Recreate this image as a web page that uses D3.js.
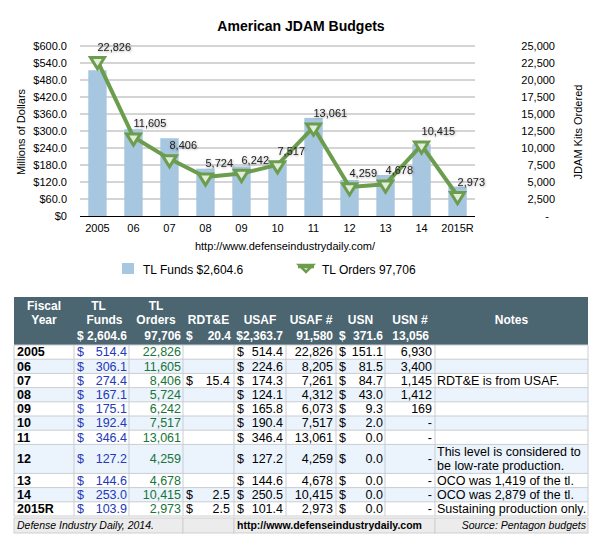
<!DOCTYPE html>
<html>
<head>
<meta charset="utf-8">
<script src="https://cdn.jsdelivr.net/npm/d3@7"></script>
<style>
  body { margin: 0; background: #fff; }
  text { font-family: "Liberation Sans", Arial, sans-serif; }
</style>
</head>
<body>
<div id="chart"></div>
<script>
// chart + table data
var years    = ["2005", "06", "07", "08", "09", "10", "11", "12", "13", "14", "2015R"];
var tlFunds  = [514.4, 306.1, 274.4, 167.1, 175.1, 192.4, 346.4, 127.2, 144.6, 253.0, 103.9];
var tlOrders = [22826, 11605, 8406, 5724, 6242, 7517, 13061, 4259, 4678, 10415, 2973];
var rdte     = [null, null, 15.4, null, null, null, null, null, null, 2.5, 2.5];
var usaf     = [514.4, 224.6, 174.3, 124.1, 165.8, 190.4, 346.4, 127.2, 144.6, 250.5, 101.4];
var usafNum  = [22826, 8205, 7261, 4312, 6073, 7517, 13061, 4259, 4678, 10415, 2973];
var usn      = [151.1, 81.5, 84.7, 43.0, 9.3, 2.0, 0.0, 0.0, 0.0, 0.0, 0.0];
var usnNum   = [6930, 3400, 1145, 1412, 169, 0, 0, 0, 0, 0, 0];
var notes    = ["", "", "RDT&E is from USAF.", "", "", "", "",
                "This level is considered to\nbe low-rate production.",
                "OCO was 1,419 of the tl.", "OCO was 2,879 of the tl.", "Sustaining production only."];
var leftTicks  = [0, 60, 120, 180, 240, 300, 360, 420, 480, 540, 600];
var rightTicks = [0, 2500, 5000, 7500, 10000, 12500, 15000, 17500, 20000, 22500, 25000];
var totals = {funds: "$ 2,604.6", orders: "97,706", rdte: "20.4", usaf: "$2,363.7",
              usafNum: "91,580", usn: "371.6", usnNum: "13,056"};
var legendFunds = "TL Funds $2,604.6", legendOrders = "TL Orders 97,706";

window.onload = () => {
  var W = 606, H = 552;
  var barColor = "#a7c6df", lineColor = "#6c9d4e";

  var svg = d3.select("#chart").append("svg")
    .attr("width", W).attr("height", H);

  var defs = svg.append("defs");
  var f = defs.append("filter").attr("id", "shadow")
    .attr("x", "-20%").attr("y", "-40%").attr("width", "140%").attr("height", "180%");
  f.append("feDropShadow").attr("dx", 0.6).attr("dy", 0.8).attr("stdDeviation", 0.8)
    .attr("flood-color", "#000").attr("flood-opacity", 0.35);

  // title
  svg.append("text").attr("x", 301).attr("y", 31).attr("text-anchor", "middle")
    .style("font-size", "14px").style("font-weight", "bold").text("American JDAM Budgets");

  // scales
  var x = d3.scaleBand().domain(years).range([80, 475])
    .paddingInner(0.49).paddingOuter(0.23);
  var yL = d3.scaleLinear().domain([0, 600]).range([216, 46]);
  var yR = d3.scaleLinear().domain([0, 25000]).range([216, 46]);

  // grid
  svg.append("g").selectAll("line").data(leftTicks.slice(1)).join("line")
    .attr("x1", 80).attr("x2", 475)
    .attr("y1", d => yL(d)).attr("y2", d => yL(d))
    .attr("stroke", "#aaaaaa").attr("stroke-width", 1);

  // left axis
  var axL = svg.append("g").attr("transform", "translate(80,0)")
    .call(d3.axisLeft(yL).tickValues(leftTicks).tickSize(0).tickPadding(13)
      .tickFormat(d => d === 0 ? "$0" : "$" + d3.format(".1f")(d)));
  axL.select(".domain").remove();
  axL.selectAll("text").style("font-size", "11px").style("font-family", "Liberation Sans, Arial, sans-serif");

  // right axis
  var axR = svg.append("g").attr("transform", "translate(475,0)")
    .call(d3.axisRight(yR).tickValues(rightTicks).tickSize(0).tickPadding(80)
      .tickFormat(d => d === 0 ? "-" : d3.format(",")(d)));
  axR.select(".domain").remove();
  axR.selectAll("text").attr("text-anchor", "end")
    .style("font-size", "11px").style("font-family", "Liberation Sans, Arial, sans-serif");
  axR.selectAll(".tick").filter(d => d === 0).select("text").attr("dx", -6);

  // axis titles
  svg.append("text").attr("transform", "translate(25,132) rotate(-90)")
    .attr("text-anchor", "middle").style("font-size", "11px").text("Millions of Dollars");
  svg.append("text").attr("transform", "translate(582,132) rotate(-90)")
    .attr("text-anchor", "middle").style("font-size", "11px").text("JDAM Kits Ordered");

  // bars
  svg.append("g").selectAll("rect").data(years).join("rect")
    .attr("x", d => x(d)).attr("width", x.bandwidth())
    .attr("y", (d, i) => yL(tlFunds[i])).attr("height", (d, i) => yL(0) - yL(tlFunds[i]))
    .attr("fill", barColor);

  // baseline
  svg.append("line").attr("x1", 80).attr("x2", 475).attr("y1", 216.5).attr("y2", 216.5)
    .attr("stroke", "#000").attr("stroke-width", 1.2);

  // x labels
  var axB = svg.append("g").attr("transform", "translate(0,216)")
    .call(d3.axisBottom(x).tickSize(0).tickPadding(8));
  axB.select(".domain").remove();
  axB.selectAll("text").style("font-size", "11px").style("font-family", "Liberation Sans, Arial, sans-serif")
    .attr("fill", "#000");

  svg.append("text").attr("x", 285).attr("y", 250).attr("text-anchor", "middle")
    .style("font-size", "11px").text("http://www.defenseindustrydaily.com/");

  // line
  var pts = years.map((d, i) => [x(d) + x.bandwidth() / 2, yR(tlOrders[i])]);
  svg.append("path").datum(pts).attr("d", d3.line())
    .attr("fill", "none").attr("stroke", lineColor).attr("stroke-width", 4)
    .attr("stroke-linejoin", "round");

  var tri = (cx, cy, s) => `M${cx - s},${cy - s * 0.6}L${cx + s},${cy - s * 0.6}L${cx},${cy + s}Z`;
  svg.append("g").selectAll("path").data(pts).join("path")
    .attr("d", d => tri(d[0], d[1] + 1, 7))
    .attr("fill", "#e4eddb").attr("stroke", lineColor).attr("stroke-width", 3)
    .attr("stroke-linejoin", "miter");

  svg.append("g").selectAll("text").data(pts).join("text")
    .attr("x", d => d[0]).attr("y", d => d[1] - 10)
    .style("font-size", "11px").attr("fill", "#222")
    .attr("filter", "url(#shadow)")
    .text((d, i) => d3.format(",")(tlOrders[i]));

  // legend
  svg.append("rect").attr("x", 122).attr("y", 263).attr("width", 12).attr("height", 11).attr("fill", barColor);
  svg.append("text").attr("x", 143).attr("y", 273.5).style("font-size", "12px").text(legendFunds);
  svg.append("path").attr("d", "M299,265L313,265L306,272Z").attr("fill", "#e4eddb")
    .attr("stroke", lineColor).attr("stroke-width", 2.5);
  svg.append("line").attr("x1", 298).attr("x2", 314).attr("y1", 267).attr("y2", 267)
    .attr("stroke", lineColor).attr("stroke-width", 2.5);
  svg.append("text").attr("x", 322).attr("y", 273.5).style("font-size", "12px").text(legendOrders);

  // ---------------- table ----------------
  var cols = [14, 74, 129, 183, 234, 286, 336, 385, 435, 588];
  var top = 297, headH = 48;
  var rowH = years.map((d, i) => notes[i].indexOf("\n") >= 0 ? 29 : 14.2);
  var rowY = [];
  var acc = top + headH;
  rowH.forEach(h => { rowY.push(acc); acc += h; });
  var tableBottom = acc;

  var tbl = svg.append("g");
  tbl.append("rect").attr("x", cols[0]).attr("y", top).attr("width", cols[9] - cols[0]).attr("height", headH)
    .attr("fill", "#4b6571");

  tbl.selectAll("rect.row").data(years).join("rect").attr("class", "row")
    .attr("x", cols[0]).attr("width", cols[9] - cols[0])
    .attr("y", (d, i) => rowY[i]).attr("height", (d, i) => rowH[i])
    .attr("fill", (d, i) => i % 2 ? "#ebf3fc" : "#ffffff");

  // grid lines
  var gridC = "#c9cdd2";
  tbl.selectAll("line.h").data(rowY.concat([tableBottom])).join("line").attr("class", "h")
    .attr("x1", cols[0]).attr("x2", cols[9]).attr("y1", d => d).attr("y2", d => d)
    .attr("stroke", gridC);
  tbl.selectAll("line.v").data(cols).join("line").attr("class", "v")
    .attr("x1", d => d).attr("x2", d => d).attr("y1", top + headH).attr("y2", tableBottom)
    .attr("stroke", gridC);

  // header text
  var hd = (xx, yy, t, anchor) => tbl.append("text").attr("x", xx).attr("y", yy)
    .attr("text-anchor", anchor || "middle").attr("fill", "#fff")
    .style("font-size", "12px").style("font-weight", "bold").text(t);
  var mid = i => (cols[i] + cols[i + 1]) / 2;
  hd(mid(0), 310, "Fiscal"); hd(mid(0), 324, "Year");
  hd(mid(1) - 3, 310, "TL"); hd(mid(1) + 3, 324, "Funds");
  hd(mid(2), 310, "TL"); hd(mid(2), 324, "Orders");
  hd(mid(3), 324, "RDT&E"); hd(mid(4), 324, "USAF"); hd(mid(5), 324, "USAF #");
  hd(mid(6), 324, "USN"); hd(mid(7), 324, "USN #"); hd(mid(8), 324, "Notes");
  hd(cols[2] - 2, 340, totals.funds, "end");
  hd(cols[3] - 2, 340, totals.orders, "end");
  hd(cols[3] + 3, 340, "$", "start"); hd(cols[4] - 3, 340, totals.rdte, "end");
  hd(cols[5] - 3, 340, totals.usaf, "end");
  hd(cols[6] - 3, 340, totals.usafNum, "end");
  hd(cols[6] + 3, 340, "$", "start"); hd(cols[7] - 2, 340, totals.usn, "end");
  hd(cols[8] - 6, 340, totals.usnNum, "end");

  // body text
  var cell = (xx, i, t, anchor, color, bold) => tbl.append("text")
    .attr("x", xx).attr("y", rowY[i] + rowH[i] / 2 + 4.3)
    .attr("text-anchor", anchor).attr("fill", color || "#000")
    .style("font-size", "12.5px").style("font-weight", bold ? "bold" : "normal").text(t);
  var f1 = d3.format(",.1f"), f0 = d3.format(",");
  years.forEach((yr, i) => {
    cell(cols[0] + 3, i, yr, "start", "#000", true);
    cell(cols[1] + 3, i, "$", "start", "#2438b8");
    cell(cols[2] - 2, i, f1(tlFunds[i]), "end", "#2438b8");
    cell(cols[3] - 2, i, f0(tlOrders[i]), "end", "#17753a");
    if (rdte[i] != null) {
      cell(cols[3] + 3, i, "$", "start");
      cell(cols[4] - 4, i, f1(rdte[i]), "end");
    }
    cell(cols[4] + 3, i, "$", "start");
    cell(cols[5] - 3, i, f1(usaf[i]), "end");
    cell(cols[6] - 3, i, f0(usafNum[i]), "end");
    cell(cols[6] + 3, i, "$", "start");
    cell(cols[7] - 2, i, f1(usn[i]), "end");
    cell(cols[8] - 3, i, usnNum[i] === 0 ? "-" : f0(usnNum[i]), "end");
    var lines = notes[i].split("\n");
    lines.forEach((ln, k) => {
      tbl.append("text").attr("x", cols[8] + 2)
        .attr("y", rowY[i] + rowH[i] / 2 + 4.3 + (k - (lines.length - 1) / 2) * 13.5)
        .style("font-size", "12.5px").text(ln);
    });
  });

  // footer
  var fy = tableBottom + 2, fh = 15;
  var fcells = [[cols[0], cols[3]], [cols[3], cols[4]], [cols[4], cols[8]], [cols[8], cols[9]]];
  tbl.selectAll("rect.foot").data(fcells).join("rect").attr("class", "foot")
    .attr("x", d => d[0]).attr("width", d => d[1] - d[0])
    .attr("y", fy).attr("height", fh)
    .attr("fill", "#ececec").attr("stroke", "#cfcfcf");
  tbl.append("text").attr("x", cols[0] + 3).attr("y", fy + 11)
    .style("font-size", "10.5px").style("font-style", "italic").text("Defense Industry Daily, 2014.");
  tbl.append("text").attr("x", cols[4] + 3).attr("y", fy + 11)
    .style("font-size", "10.5px").style("font-weight", "bold").text("http://www.defenseindustrydaily.com");
  tbl.append("text").attr("x", cols[9] - 2).attr("y", fy + 11).attr("text-anchor", "end")
    .style("font-size", "10.5px").style("font-style", "italic").text("Source: Pentagon budgets");
};
</script>
</body>
</html>
